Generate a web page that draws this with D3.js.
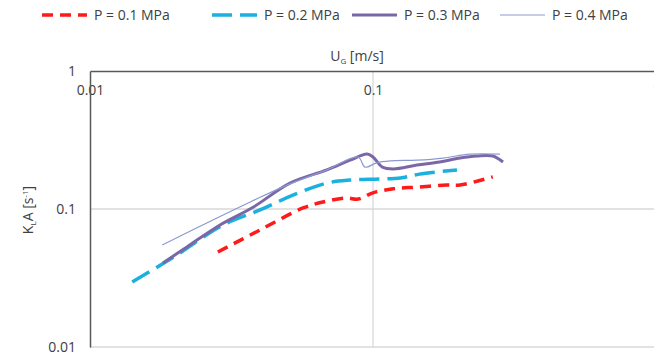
<!DOCTYPE html>
<html>
<head>
<meta charset="utf-8">
<script src="https://cdn.jsdelivr.net/npm/d3@7"></script>
<style>
  body { margin: 0; background: #fff; }
  text { font-family: "Open Sans", "Noto Sans", sans-serif; fill: #404040; }
</style>
</head>
<body>
<div id="chart"></div>
<script>
// Data (U_G in m/s, KLA in 1/s).
var seriesNames = ["P = 0.1 MPa", "P = 0.2 MPa", "P = 0.3 MPa", "P = 0.4 MPa"];

var ugP01 = [0.0283, 0.0399, 0.0566, 0.0687, 0.0809, 0.0885, 0.1, 0.118, 0.143, 0.182, 0.203, 0.265];
var klaP01 = [0.0488, 0.0705, 0.1017, 0.114, 0.120, 0.118, 0.131, 0.140, 0.144, 0.149, 0.149, 0.171];

var ugP02 = [0.0141, 0.0195, 0.0295, 0.0399, 0.0521, 0.0687, 0.083, 0.106, 0.125, 0.146, 0.198];
var klaP02 = [0.0296, 0.0441, 0.0766, 0.0984, 0.126, 0.154, 0.162, 0.165, 0.168, 0.179, 0.192];

var ugP03 = [0.0181, 0.0220, 0.0288, 0.0377, 0.0509, 0.0687, 0.083, 0.0953, 0.1, 0.108, 0.118, 0.143, 0.172, 0.203, 0.233, 0.265, 0.288];
var klaP03 = [0.0406, 0.0531, 0.0766, 0.103, 0.154, 0.192, 0.226, 0.250, 0.238, 0.201, 0.195, 0.208, 0.219, 0.234, 0.242, 0.242, 0.219];

var ugP04 = [0.0180, 0.0281, 0.0367, 0.0497, 0.0687, 0.0885, 0.0937, 0.103, 0.115, 0.143, 0.177, 0.220, 0.281];
var klaP04 = [0.0549, 0.0861, 0.112, 0.149, 0.192, 0.238, 0.201, 0.216, 0.223, 0.226, 0.234, 0.250, 0.250];

var xTicks = [0.01, 0.1, 1];
var yTicks = [0.01, 0.1, 1];

var W = 654, H = 352;
// Plot box (note: "top" is reserved on window, so use prefixed names).
var plotL = 90, plotR = 656, plotT = 71, plotB = 347;

var svg = d3.select("#chart").append("svg")
    .attr("width", W).attr("height", H);

var x = d3.scaleLog().domain([0.01, 1]).range([plotL, plotR]);
var y = d3.scaleLog().domain([0.01, 1]).range([plotB, plotT]);

// Gridlines.
svg.append("g").selectAll("line")
    .data(yTicks.slice(0, 2))
    .join("line")
    .attr("x1", plotL).attr("x2", plotR)
    .attr("y1", d => y(d)).attr("y2", d => y(d))
    .attr("stroke", "#d9d9d9").attr("stroke-width", 1.3);
svg.append("g").selectAll("line")
    .data(xTicks.slice(1))
    .join("line")
    .attr("x1", d => x(d)).attr("x2", d => x(d))
    .attr("y1", plotT).attr("y2", plotB)
    .attr("stroke", "#d9d9d9").attr("stroke-width", 1.3);

// Axes: x axis sits at the top (crosses at y = 1).
var xAxis = svg.append("g")
    .attr("transform", "translate(0," + plotT + ")")
    .call(d3.axisBottom(x).tickValues(xTicks).tickFormat(d3.format("")).tickSize(0).tickPadding(14));
xAxis.select(".domain").attr("stroke", "#595959").attr("stroke-width", 1.5);
xAxis.selectAll("text").attr("font-size", 14).attr("fill", "#404040")
    .style("font-family", "'Open Sans', sans-serif");

var yAxis = svg.append("g")
    .attr("transform", "translate(" + plotL + ",0)")
    .call(d3.axisLeft(y).tickValues(yTicks).tickFormat(d3.format("")).tickSize(0).tickPadding(14));
yAxis.select(".domain").attr("stroke", "#595959").attr("stroke-width", 1.5);
yAxis.selectAll("text").attr("font-size", 14).attr("fill", "#404040")
    .style("font-family", "'Open Sans', sans-serif");

// Axis titles.
var xt = svg.append("text")
    .attr("x", 357).attr("y", 61)
    .attr("text-anchor", "middle").attr("font-size", 14);
xt.append("tspan").text("U");
xt.append("tspan").attr("font-size", 8).attr("dy", 3).text("G");
xt.append("tspan").attr("dy", -3).text(" [m/s]");

var yt = svg.append("text")
    .attr("transform", "translate(33,210) rotate(-90)")
    .attr("text-anchor", "middle").attr("font-size", 14);
yt.append("tspan").text("K");
yt.append("tspan").attr("font-size", 8).attr("dy", 3).text("L");
yt.append("tspan").attr("dy", -3).text("A [s");
yt.append("tspan").attr("font-size", 8).attr("dy", -5).text("-1");
yt.append("tspan").attr("dy", 5).text("]");

// Series.
var series = [
    { name: seriesNames[0], xs: ugP01, ys: klaP01, color: "#ff1a1a", width: 3.5, dash: "11,7" },
    { name: seriesNames[1], xs: ugP02, ys: klaP02, color: "#1ab0e0", width: 3.5, dash: "20,8" },
    { name: seriesNames[2], xs: ugP03, ys: klaP03, color: "#7b66a8", width: 3, dash: null },
    { name: seriesNames[3], xs: ugP04, ys: klaP04, color: "#8a9ad0", width: 1.2, dash: null }
];

var line = d3.line()
    .x(d => x(d[0]))
    .y(d => y(d[1]))
    .curve(d3.curveCatmullRom.alpha(0.5));

svg.append("g").selectAll("path")
    .data(series)
    .join("path")
    .attr("d", s => line(s.xs.map((v, i) => [v, s.ys[i]])))
    .attr("fill", "none")
    .attr("stroke", s => s.color)
    .attr("stroke-width", s => s.width)
    .attr("stroke-dasharray", s => s.dash);

// Legend.
var legendX = [42, 212, 352, 500];
var lg = svg.append("g").selectAll("g")
    .data(series)
    .join("g")
    .attr("transform", (s, i) => "translate(" + legendX[i] + ",15)");
lg.append("line")
    .attr("x1", 0).attr("x2", 45)
    .attr("stroke", s => s.color)
    .attr("stroke-width", s => s.width)
    .attr("stroke-dasharray", s => s.dash);
lg.append("text")
    .attr("x", 52).attr("dy", "0.35em")
    .attr("font-size", 14)
    .text(s => s.name);
</script>
</body>
</html>
